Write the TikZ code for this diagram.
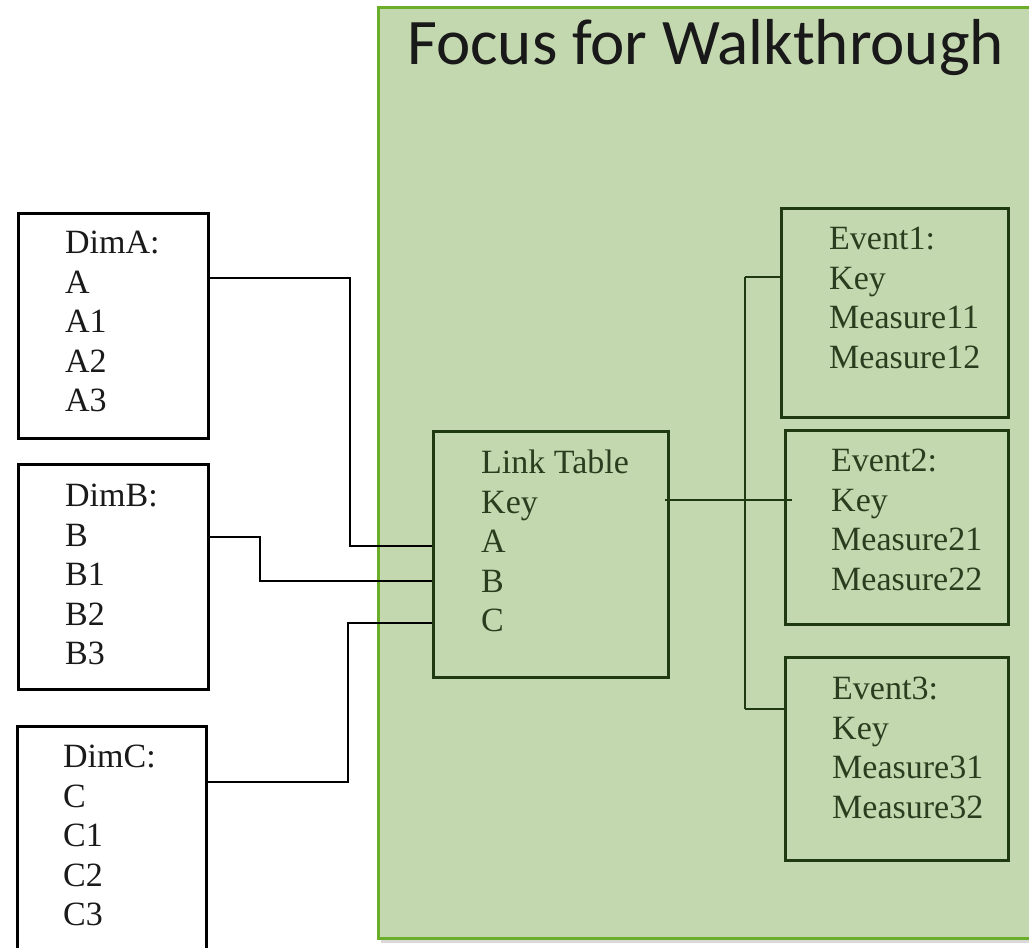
\documentclass[tikz,border=0pt]{standalone}
\usepackage{fontspec}
\setmainfont{Liberation Serif}
\newfontfamily\titlefont{Carlito}
\definecolor{panelfill}{HTML}{C4D8B0}
\definecolor{panelline}{HTML}{6AAE2A}
\definecolor{darkgrn}{HTML}{1F3A10}
\definecolor{grntext}{HTML}{2A3D1E}
\definecolor{inktext}{HTML}{1A1A1A}
\begin{document}
\begin{tikzpicture}[x=1pt,y=-1pt,
  boxblack/.style={draw=black, line width=3pt, rectangle, inner sep=0pt},
  boxgreen/.style={draw=darkgrn, line width=3pt, rectangle, inner sep=0pt},
  txtblack/.style={anchor=north west, inner sep=0pt, align=left, text=inktext,
    font=\fontsize{34}{39.5}\selectfont},
  txtgreen/.style={anchor=north west, inner sep=0pt, align=left, text=grntext,
    font=\fontsize{34}{39.5}\selectfont},
  connblack/.style={draw=black, line width=2.8pt},
  conngreen/.style={draw=darkgrn, line width=2.8pt},
  connthin/.style={draw=darkgrn, line width=1.5pt}]
\useasboundingbox (0,0) rectangle (1029,948);
\fill[white] (0,0) rectangle (1029,948);
% panel shadow and panel
\fill[black!15] (381,11) rectangle (1040,943);
\node[draw=panelline, fill=panelfill, line width=3pt, rectangle, inner sep=0pt,
  minimum width=660pt, minimum height=931pt, anchor=north west] (panel) at (377,6) {};
\node[anchor=base west, inner sep=0pt, font=\titlefont\fontsize{65}{70}\selectfont, text=black!90]
  (title) at (407,64) {Focus for Walkthrough};
% dimension boxes
\node[boxblack, minimum width=190pt, minimum height=225pt, anchor=north west] (dimA) at (17,212) {};
\node[txtblack] (dimAt) at (65,231) {DimA:\\A\\A1\\A2\\A3};
\node[boxblack, minimum width=190pt, minimum height=225pt, anchor=north west] (dimB) at (17,463) {};
\node[txtblack] (dimBt) at (65,484) {DimB:\\B\\B1\\B2\\B3};
\node[boxblack, minimum width=189pt, minimum height=240pt, anchor=north west] (dimC) at (16,725) {};
\node[txtblack] (dimCt) at (63,745) {DimC:\\C\\C1\\C2\\C3};
% link table
\node[boxgreen, minimum width=235pt, minimum height=246pt, anchor=north west] (link) at (432,430) {};
\node[txtgreen] (linkt) at (481,450) {Link Table\\Key\\A\\B\\C};
% event boxes
\node[boxgreen, minimum width=227pt, minimum height=209pt, anchor=north west] (ev1) at (780,207) {};
\node[txtgreen] (ev1t) at (829,227) {Event1:\\Key\\Measure11\\Measure12};
\node[boxgreen, minimum width=223pt, minimum height=194pt, anchor=north west] (ev2) at (784,429) {};
\node[txtgreen] (ev2t) at (831,449) {Event2:\\Key\\Measure21\\Measure22};
\node[boxgreen, minimum width=223pt, minimum height=203pt, anchor=north west] (ev3) at (784,656) {};
\node[txtgreen] (ev3t) at (832,677) {Event3:\\Key\\Measure31\\Measure32};
% connectors from dimensions
\draw[connblack] ([yshift=-66pt]dimA.north east) -- ++(140,0) |- ([yshift=-116pt]link.north west);
\draw[connblack] ([yshift=-74pt]dimB.north east) -- ++(50,0) |- ([yshift=-151pt]link.north west);
\draw[connblack] ([yshift=-193pt]link.north west) -- ++(-84,0) |- ([yshift=-57pt]dimC.north east);
% connectors to events
\coordinate (bus1) at (745,277);
\coordinate (bus3) at (745,709);
\draw[connthin] (bus1) -- (bus3);
\draw[conngreen] (bus1) -- (bus1 -| ev1.west);
\draw[connthin] (bus3) -- (bus3 -| ev3.west);
\draw[connthin] ([xshift=-5pt,yshift=-70pt]link.north east) -- ([xshift=8pt,yshift=-71pt]ev2.north west);
\end{tikzpicture}
\end{document}
